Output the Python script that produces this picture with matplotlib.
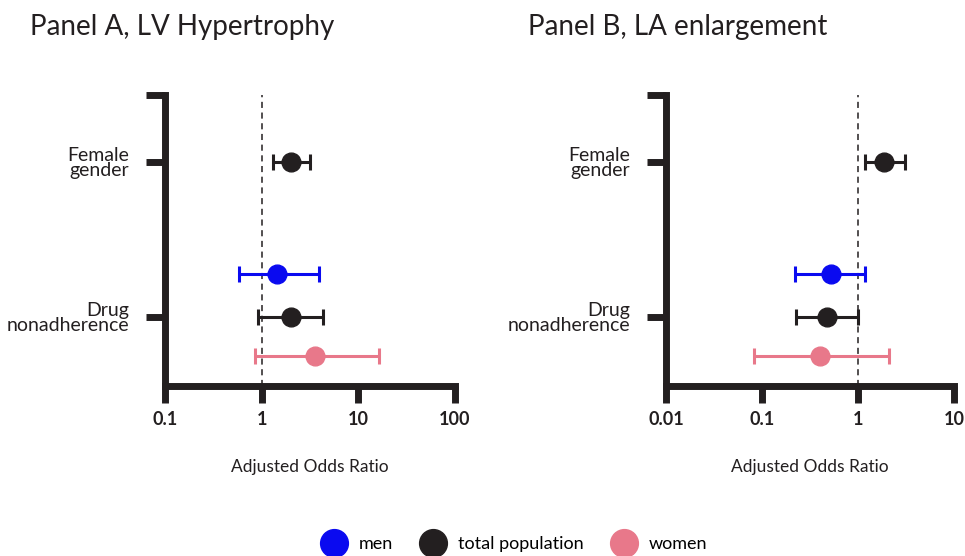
import matplotlib.pyplot as plt
from matplotlib.lines import Line2D

plt.rcParams['font.family'] = ['Lato', 'DejaVu Sans']

# groups and colours
groups = ["men", "total population", "women"]
colors = {"men": "#0a0af0", "total population": "#231f20", "women": "#e8788a"}

# row positions (categorical, spaced as in the original)
row_labels = ["Drug\nnonadherence", "Female\ngender"]
row_ticks = [2, 6]

# Panel A, LV Hypertrophy
a_group = ["total population", "men", "total population", "women"]
a_ypos = [6, 3.1, 2, 1.0]
a_or = [2.02, 1.43, 2.0, 3.6]
a_lo = [1.30, 0.58, 0.92, 0.85]
a_hi = [3.15, 3.96, 4.3, 16.2]

# Panel B, LA enlargement
b_group = ["total population", "men", "total population", "women"]
b_ypos = [6, 3.1, 2, 1.0]
b_or = [1.88, 0.525, 0.478, 0.40]
b_lo = [1.17, 0.22, 0.227, 0.082]
b_hi = [3.08, 1.17, 1.0, 2.11]

dark = "#231f20"
fig = plt.figure(figsize=(9.65, 5.56), dpi=100)

def panel(rect, title, ypos, ors, los, his, grp, xlim, xticks, xticklabels, title_x):
    ax = fig.add_axes(rect)
    ax.set_xscale("log")
    ax.set_xlim(*xlim)
    ax.set_ylim(0.22, 7.73)
    ax.axvline(1, color=dark, ls=(0, (4, 3)), lw=1.1, zorder=1)
    for y, o, lo, hi, g in zip(ypos, ors, los, his, grp):
        ax.errorbar(o, y, xerr=[[o - lo], [hi - o]], fmt="o", color=colors[g],
                    ms=13.5, elinewidth=2.2, capsize=6, capthick=2.2, zorder=3)
    for s in ["top", "right"]:
        ax.spines[s].set_visible(False)
    for s in ["left", "bottom"]:
        ax.spines[s].set_linewidth(5)
        ax.spines[s].set_color(dark)
        ax.spines[s].set_capstyle("projecting")
    ax.set_yticks(row_ticks + [7.73])
    ax.set_yticklabels(row_labels + [""], fontsize=14, color=dark, linespacing=0.9)
    ax.tick_params(axis="y", length=14, width=5, color=dark, pad=12)
    ax.set_xticks(xticks)
    ax.set_xticklabels(xticklabels, fontsize=13, fontweight="bold", color=dark)
    ax.minorticks_off()
    ax.tick_params(axis="x", length=12, width=5, color=dark, pad=6)
    ax.set_xlabel("Adjusted Odds Ratio", fontsize=12.5, color=dark, labelpad=22)
    fig.text(title_x, 0.952, title, fontsize=20, color=dark, va="center", ha="left")
    return ax

panel([165 / 965, 170 / 556, 290 / 965, 291 / 556], "Panel A, LV Hypertrophy",
      a_ypos, a_or, a_lo, a_hi, a_group, (0.1, 100), [0.1, 1, 10, 100],
      ["0.1", "1", "10", "100"], 30 / 965)
panel([666 / 965, 170 / 556, 288 / 965, 291 / 556], "Panel B, LA enlargement",
      b_ypos, b_or, b_lo, b_hi, b_group, (0.01, 10), [0.01, 0.1, 1, 10],
      ["0.01", "0.1", "1", "10"], 528 / 965)

handles = [Line2D([], [], ls="none", marker="o", ms=20, color=colors[g]) for g in groups]
fig.legend(handles, groups, loc="lower center", bbox_to_anchor=(0.53, -0.022), ncol=3,
           frameon=False, fontsize=13, handletextpad=0.4, columnspacing=1.2)

fig.savefig("out.png", dpi=100)
